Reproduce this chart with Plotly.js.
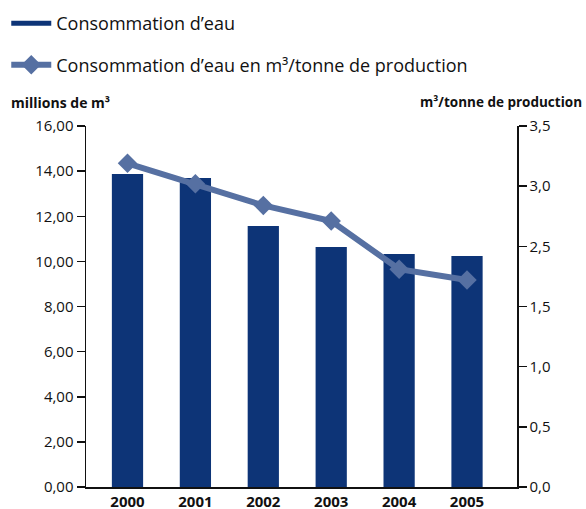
<!DOCTYPE html>
<html>
<head>
<meta charset="utf-8">
<script src="https://cdn.plot.ly/plotly-3.0.1.min.js"></script>
<style>html,body{margin:0;padding:0;background:#fff;}#chart{width:586px;height:509px;}</style>
</head>
<body>
<div id="chart"></div>
<script>
// Data
var years = ["2000", "2001", "2002", "2003", "2004", "2005"];
var consommation = [13.87, 13.70, 11.57, 10.64, 10.33, 10.24];          // millions de m³
var consoParTonne = [2.69, 2.52, 2.34, 2.21, 1.81, 1.72];               // m³/tonne (axis scale)
var leftTickVals = [0, 2, 4, 6, 8, 10, 12, 14, 16];
var rightTickVals = [0, 0.5, 1, 1.5, 2, 2.5, 3];
var rightTickText = ["0,0", "0,5", "1,0", "1,5", "2,5", "3,0", "3,5"];
var seriesNames = ["Consommation d\u2019eau", "Consommation d\u2019eau en m\u00b3/tonne de production"];

var barColor = "#0d3477";
var lineColor = "#5670a2";
var font = "Open Sans, sans-serif";

var traces = [
  {
    type: "bar", x: years, y: consommation, name: seriesNames[0],
    marker: {color: barColor}, showlegend: false, hoverinfo: "skip"
  },
  {
    type: "scatter", mode: "lines", x: [null], y: [null], name: seriesNames[0],
    line: {color: barColor, width: 5}, legendgroup: "a", showlegend: true, hoverinfo: "skip"
  },
  {
    type: "scatter", mode: "lines+markers", x: years, y: consoParTonne, yaxis: "y2",
    name: seriesNames[1], legendgroup: "b",
    line: {color: lineColor, width: 6},
    marker: {symbol: "diamond", size: 15, color: lineColor}
  }
];

var layout = {
  width: 586, height: 509,
  margin: {l: 86, r: 69, t: 126, b: 22, pad: 0, autoexpand: false},
  paper_bgcolor: "#fff", plot_bgcolor: "#fff",
  separators: ", ",
  font: {family: font, color: "#111", size: 15},
  bargap: 0.54,
  xaxis: {
    type: "category", range: [-0.611, 5.736], showgrid: false, zeroline: false,
    showline: true, linecolor: "#111", linewidth: 1.5, ticks: "",
    tickfont: {family: font, size: 15, color: "#111", weight: "bold"},
    fixedrange: true, automargin: false
  },
  yaxis: {
    range: [0, 16], tickvals: leftTickVals, tickformat: ".2f",
    showgrid: false, zeroline: false, showline: true, linecolor: "#111", linewidth: 1.5,
    ticks: "outside", ticklen: 8, tickwidth: 1.5, tickcolor: "#111",
    tickfont: {family: font, size: 15, color: "#111"}, automargin: false
  },
  yaxis2: {
    overlaying: "y", side: "right", range: [0, 3],
    tickvals: rightTickVals, ticktext: rightTickText,
    showgrid: false, zeroline: false, showline: true, linecolor: "#111", linewidth: 1.5,
    ticks: "outside", ticklen: 8, tickwidth: 1.5, tickcolor: "#111",
    tickfont: {family: font, size: 15, color: "#111"}, automargin: false
  },
  showlegend: true,
  legend: {
    x: -0.185, xanchor: "left", y: 1.335, yanchor: "top",
    orientation: "v", traceorder: "grouped", tracegroupgap: 15,
    itemwidth: 40, font: {family: font, size: 18, color: "#111"},
    bgcolor: "rgba(0,0,0,0)"
  },
  annotations: [
    {xref: "paper", yref: "paper", x: -0.1787, y: 1.066, xanchor: "left", yanchor: "middle",
     text: "millions de m\u00b3", showarrow: false, font: {family: font, size: 14, color: "#111", weight: "bold"}},
    {xref: "paper", yref: "paper", x: 1.1555, y: 1.066, xanchor: "right", yanchor: "middle",
     text: "m\u00b3/tonne de production", showarrow: false, font: {family: font, size: 13.5, color: "#111", weight: "bold"}}
  ]
};

Plotly.newPlot("chart", traces, layout, {displayModeBar: false, staticPlot: true});
</script>
</body>
</html>
